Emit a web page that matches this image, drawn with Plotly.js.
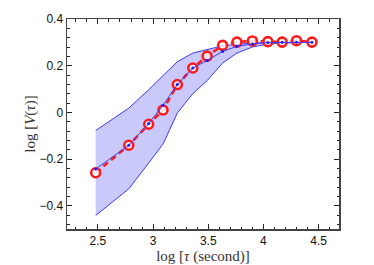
<!DOCTYPE html>
<html><head><meta charset="utf-8">
<script src="https://cdn.plot.ly/plotly-3.0.1.min.js"></script>
<style>html,body{margin:0;padding:0;background:#fff}</style>
</head><body><div id="c" style="width:374px;height:265px"></div>
<script>
const logTau   = [2.48, 2.78, 2.96, 3.09, 3.22, 3.36, 3.49, 3.63, 3.76, 3.90, 4.04, 4.17, 4.30, 4.44];
const observed = [-0.259, -0.141, -0.051, 0.010, 0.119, 0.190, 0.241, 0.287, 0.301, 0.306, 0.303, 0.301, 0.307, 0.301];
const median   = [-0.243, -0.141, -0.048, 0.030, 0.119, 0.190, 0.222, 0.261, 0.283, 0.293, 0.299, 0.300, 0.300, 0.300];
const upper    = [-0.078, 0.018, 0.097, 0.157, 0.217, 0.254, 0.270, 0.285, 0.291, 0.297, 0.299, 0.300, 0.300, 0.300];
const lower    = [-0.442, -0.328, -0.217, -0.136, -0.003, 0.080, 0.136, 0.211, 0.254, 0.280, 0.293, 0.297, 0.299, 0.300];

const blue = '#3b3bff';
const traces = [
  {x: logTau, y: lower, mode: 'lines', line: {color: blue, width: 1}, hoverinfo: 'skip'},
  {x: logTau, y: upper, mode: 'lines', line: {color: blue, width: 1}, fill: 'tonexty', fillcolor: '#c9c9fb'},
  {x: logTau, y: observed, mode: 'lines+markers',
   line: {color: '#ff1a1a', width: 2.6, dash: '6px,4px'},
   marker: {symbol: 'circle', size: 9, color: 'rgba(255,255,255,0.85)', line: {color: '#ff1a1a', width: 2.6}}},
  {x: logTau, y: median, mode: 'lines+markers', line: {color: blue, width: 1},
   marker: {size: 3, color: '#1a1aff'}}
];

const serif = 'Liberation Serif, DejaVu Serif, serif';
const sans = 'Liberation Sans, Arial, sans-serif';
const axisCommon = {
  showgrid: false, zeroline: false, showline: true, linecolor: '#444', linewidth: 1.5,
  mirror: 'allticks', ticks: 'inside', ticklen: 5, tickwidth: 1, tickcolor: '#222',
  tickfont: {family: sans, size: 12, color: '#111'}
};
const layout = {
  width: 374, height: 265,
  margin: {l: 67, r: 35, t: 19, b: 36},
  paper_bgcolor: '#fff', plot_bgcolor: '#fff',
  showlegend: false,
  xaxis: Object.assign({}, axisCommon, {
    range: [2.22, 4.685], tickvals: [2.5, 3, 3.5, 4, 4.5], ticktext: ['2.5','3','3.5','4','4.5'],
    minor: {dtick: 0.1, tick0: 2.2, ticks: 'inside', ticklen: 2.5, tickcolor: '#222'},
    title: {text: 'log [<i>τ</i> (second)]', font: {family: serif, size: 15, color: '#333'}, standoff: 1}
  }),
  yaxis: Object.assign({}, axisCommon, {
    range: [-0.5, 0.4], tickvals: [-0.4, -0.2, 0, 0.2, 0.4], ticktext: ['−0.4','−0.2','0','0.2','0.4'],
    minor: {dtick: 0.04, tick0: 0, ticks: 'inside', ticklen: 2.5, tickcolor: '#222'},
    title: {text: 'log [<i>V</i>(<i>τ</i>)]', font: {family: serif, size: 15, color: '#333'}, standoff: 0}
  })
};
Plotly.newPlot('c', traces, layout, {staticPlot: true, displayModeBar: false});
</script></body></html>
